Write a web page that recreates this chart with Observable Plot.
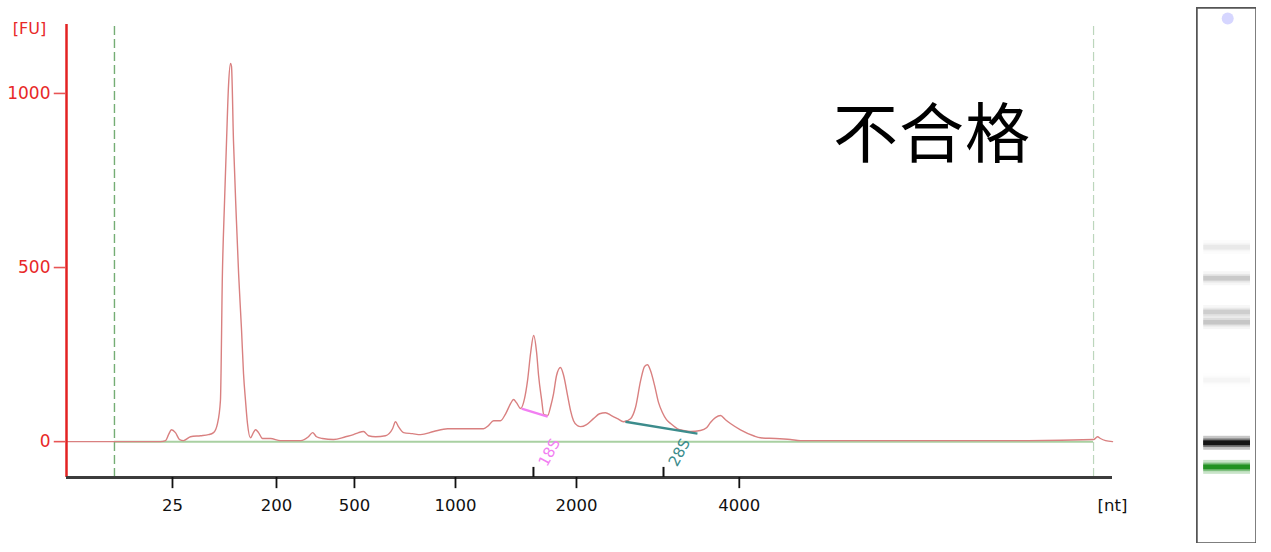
<!DOCTYPE html>
<html><head><meta charset="utf-8">
<script src="https://cdn.jsdelivr.net/npm/d3@7"></script>
<script src="https://cdn.jsdelivr.net/npm/@observablehq/plot@0.6"></script>
<style>
body{margin:0;background:#fff;width:1271px;height:552px;overflow:hidden;font-family:"DejaVu Sans",sans-serif}
#wrap{position:relative;width:1271px;height:552px}
#main{position:absolute;left:0;top:0}
#lane{position:absolute;left:1196px;top:7px}
#verdict{position:absolute;left:833px;top:97px;font-family:"Noto Sans CJK SC",sans-serif;font-size:65px;color:#000;line-height:1;letter-spacing:1px}
</style></head>
<body><div id="wrap"><div id="main"></div><div id="lane"></div><div id="verdict">不合格</div></div>
<script>
// Electropherogram: migration time [s] vs fluorescence [FU]
const time = [19.00,23.76,24.02,24.17,24.32,24.52,24.73,24.93,25.28,25.79,26.19,26.45,26.65,26.80,26.90,27.01,27.11,27.21,27.31,27.36,27.46,27.61,27.72,27.87,27.97,28.07,28.17,28.32,28.47,28.58,28.73,28.93,29.34,29.84,30.86,31.26,31.47,31.67,31.97,32.53,33.14,33.54,33.80,34.05,34.30,34.66,35.16,35.52,35.67,35.82,36.08,36.53,36.94,37.60,38.31,38.96,39.57,40.13,40.38,40.64,40.99,41.25,41.50,41.65,41.80,42.01,42.21,42.36,42.52,42.67,42.82,42.92,43.08,43.18,43.38,43.53,43.68,43.83,44.03,44.19,44.39,44.54,44.69,44.89,45.05,45.35,45.70,46.01,46.31,46.61,46.92,47.22,47.58,47.83,48.09,48.29,48.44,48.59,48.80,49.00,49.20,49.40,49.61,49.96,50.26,50.62,51.12,51.43,51.63,51.88,52.14,52.39,52.64,53.15,53.81,54.16,54.92,55.68,56.19,67.74,71.04,71.24,71.39,71.65,72.00];
const fu = [0,0,3,20,34,26,6,3,14,17,20,26,52,118,483,693,865,1023,1086,1078,865,635,483,319,195,118,52,11,26,34,26,9,9,3,3,14,26,14,9,6,14,20,26,29,17,14,17,37,57,43,26,23,20,29,37,37,37,37,46,60,60,80,109,121,112,95,124,175,256,305,256,190,118,78,75,101,138,190,213,190,132,89,60,46,43,49,66,80,83,75,66,57,66,98,175,216,221,204,161,112,83,63,52,37,32,29,32,40,55,69,75,63,52,34,17,11,9,6,3,3,6,14,9,3,0];

// axis ticks (time positions and their size labels)
const xTickTimes = [24.37, 29.64, 33.59, 38.71, 44.84, 53.09];
const xTickLabels = ["25", "200", "500", "1000", "2000", "4000"];
const yTicks = [0, 500, 1000];

// ribosomal peaks
const rRNA = ["18S", "28S"];
const rRNATimes = [42.66, 49.25];
const rRNAColors = ["#f27ff2", "#3c8c8c"];
const rRNABaseT1 = [42.06, 47.32];
const rRNABaseF1 = [95, 57];
const rRNABaseT2 = [43.38, 50.97];
const rRNABaseF2 = [72, 23];

// markers (alignment)
const markerTimes = [21.43, 71.04];

// gel lane bands: relative position (% of lane height from top), intensity, colour
const bandPos = [44.8, 50.6, 56.9, 58.8, 69.6, 81.3, 85.8];
const bandAlpha = [0.10, 0.30, 0.28, 0.33, 0.05, 0.95, 0.95];
const bandColor = ["#777", "#888", "#888", "#888", "#888", "#111", "#1d8f1d"];

const trace = time.map((t, i) => ({t, fu: fu[i]}));
const rr = rRNA.map((name, i) => ({name, t: rRNATimes[i], c: rRNAColors[i],
  t1: rRNABaseT1[i], f1: rRNABaseF1[i], t2: rRNABaseT2[i], f2: rRNABaseF2[i]}));
const labelOf = new Map(xTickTimes.map((t, i) => [t, xTickLabels[i]]));
const X0 = 19, X1 = 72, Y0 = -103, Y1 = 1198;

const chart = Plot.plot({
  width: 1180, height: 552,
  marginLeft: 66, marginRight: 68, marginTop: 24, marginBottom: 75,
  x: {domain: [X0, X1], axis: null},
  y: {domain: [Y0, Y1], axis: null},
  style: {fontFamily: "DejaVu Sans, sans-serif", fontSize: "16px", background: "white", overflow: "visible"},
  marks: [
    // green baseline
    Plot.ruleY([0], {x1: markerTimes[0], x2: markerTimes[1], stroke: "#a9d0a2", strokeWidth: 2}),
    // marker dashed lines
    Plot.ruleX([markerTimes[0]], {y1: Y0, y2: Y1, stroke: "#74ad74", strokeWidth: 1.4, strokeDasharray: "9,4"}),
    Plot.ruleX([markerTimes[1]], {y1: Y0, y2: Y1, stroke: "#bcd6bc", strokeWidth: 1.2, strokeDasharray: "9,4"}),
    // trace
    Plot.line(trace, {x: "t", y: "fu", stroke: "#d98080", strokeWidth: 1.4, curve: "monotone-x"}),
    // rRNA baselines
    Plot.link(rr, {x1: "t1", y1: "f1", x2: "t2", y2: "f2", stroke: "c", strokeWidth: 2.4}),
    // y axis
    Plot.ruleX([X0], {y1: Y0, y2: Y1, stroke: "#e32222", strokeWidth: 2.5}),
    Plot.ruleY(yTicks, {x1: X0 - 0.62, x2: X0, stroke: "#e85555", strokeWidth: 1.6}),
    Plot.text(yTicks, {x: X0, y: d => d, text: d => String(d), textAnchor: "end", dx: -16, fill: "#e82828", fontSize: 17}),
    Plot.text(["[FU]"], {x: X0, y: Y1, text: d => d, textAnchor: "middle", dx: -37, dy: 4, fill: "#e82828", fontSize: 16}),
    // x axis
    Plot.ruleY([Y0], {x1: X0, x2: X1, stroke: "#3c3c3c", strokeWidth: 3}),
    Plot.ruleX(xTickTimes, {y1: Y0, y2: Y0 - 32, stroke: "#111", strokeWidth: 1.8}),
    Plot.text(xTickTimes, {x: d => d, y: Y0, text: d => labelOf.get(d), dy: 28, fill: "#111", fontSize: 16.5}),
    Plot.text(["[nt]"], {x: X1, y: Y0, text: d => d, dy: 28, fill: "#111", fontSize: 16.5}),
    // rRNA ticks and labels
    Plot.ruleX(rr, {x: "t", y1: Y0, y2: Y0 + 29, stroke: "#111", strokeWidth: 2}),
    Plot.text(rr, {x: "t", y: Y0, text: "name", fill: "c", rotate: -62, dx: 16, dy: -25, fontSize: 15, textAnchor: "middle"})
  ]
});
document.getElementById("main").appendChild(chart);

// gel lane
const bands = bandPos.map((p, i) => ({p, a: bandAlpha[i], c: bandColor[i]}));
const lane = Plot.plot({
  width: 60, height: 536,
  margin: 0,
  x: {domain: [0, 1], axis: null},
  y: {domain: [0, 100], axis: null, reverse: true},
  style: {background: "white"},
  marks: [
    Plot.rect(bands, {x1: 0.12, x2: 0.9, y1: d => d.p - 1.3, y2: d => d.p + 1.3, fill: "c", fillOpacity: d => d.a * 0.25}),
    Plot.rect(bands, {x1: 0.12, x2: 0.9, y1: d => d.p - 0.8, y2: d => d.p + 0.8, fill: "c", fillOpacity: d => d.a * 0.45}),
    Plot.rect(bands, {x1: 0.12, x2: 0.9, y1: d => d.p - 0.45, y2: d => d.p + 0.45, fill: "c", fillOpacity: d => d.a}),
    Plot.dot([2.05], {x: 0.52, y: d => d, r: 6, fill: "#d6d6ff", stroke: "none"}),
    Plot.frame({stroke: "#555", strokeWidth: 2.5})
  ]
});
document.getElementById("lane").appendChild(lane);
</script>
</body></html>
